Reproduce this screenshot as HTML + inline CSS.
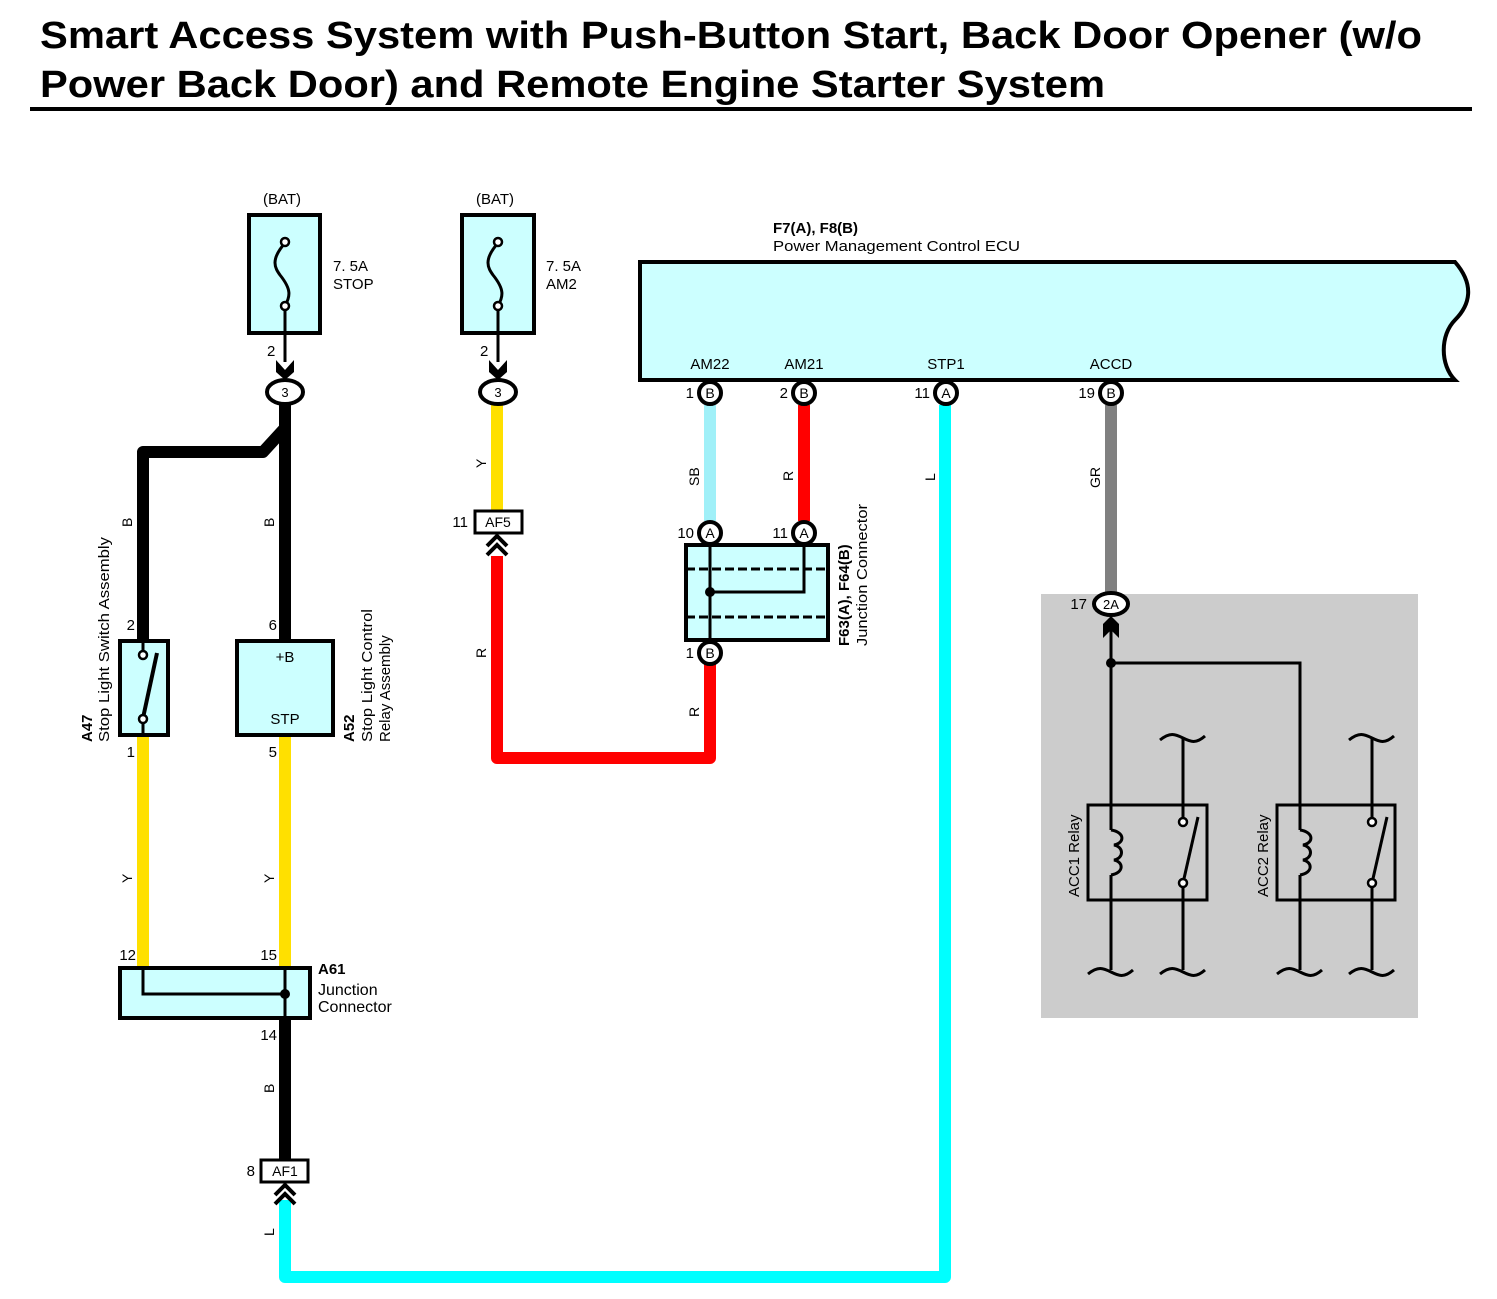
<!DOCTYPE html>
<html><head><meta charset="utf-8"><style>
html,body{margin:0;padding:0;background:#fff;}
svg{display:block;}
text{font-family:"Liberation Sans",sans-serif;fill:#000;}
</style></head><body>
<svg width="1497" height="1299" viewBox="0 0 1497 1299" xmlns="http://www.w3.org/2000/svg">
<text x="40" y="48" font-size="38" font-weight="bold" textLength="1382" lengthAdjust="spacingAndGlyphs">Smart Access System with Push-Button Start, Back Door Opener (w/o</text>
<text x="40" y="97" font-size="38" font-weight="bold" textLength="1065" lengthAdjust="spacingAndGlyphs">Power Back Door) and Remote Engine Starter System</text>
<rect x="30" y="107" width="1442" height="4" fill="#000"/>

<rect x="1041" y="594" width="377" height="424" fill="#cccccc"/>

<g fill="none" stroke-linejoin="round" stroke-linecap="butt">
<path d="M285 405 V640" stroke="#000" stroke-width="12"/>
<path d="M285 428 L263 452 H143 V640" stroke="#000" stroke-width="12"/>
<path d="M143 735 V968" stroke="#ffe000" stroke-width="12"/>
<path d="M285 735 V968" stroke="#ffe000" stroke-width="12"/>
<path d="M285 1018 V1160" stroke="#000" stroke-width="12"/>
<path d="M285 1200 V1277 H945 V405" stroke="#00ffff" stroke-width="12"/>
<path d="M497 405 V511" stroke="#ffe000" stroke-width="12"/>
<path d="M497 556 V758 H710 V664" stroke="#ff0000" stroke-width="12"/>
<path d="M710 405 V521" stroke="#a0f0f8" stroke-width="12"/>
<path d="M804 405 V521" stroke="#ff0000" stroke-width="12"/>
<path d="M1111 405 V594" stroke="#808080" stroke-width="12"/>
</g>

<g stroke="#000" stroke-width="4" fill="#ccffff">
<rect x="249" y="215" width="71" height="118"/>
<rect x="462" y="215" width="72" height="118"/>
</g>
<g stroke="#000" stroke-width="3" fill="none">
<path d="M285 243 C270 260,275 268,280 275 C292 290,290 296,285 306"/>
<path d="M498 243 C483 260,488 268,493 275 C505 290,503 296,498 306"/>
<line x1="285" y1="306" x2="285" y2="362"/>
<line x1="498" y1="306" x2="498" y2="362"/>
</g>
<g fill="#fff" stroke="#000" stroke-width="2.5"><circle cx="285" cy="242" r="4"/><circle cx="285" cy="306" r="4"/><circle cx="498" cy="242" r="4"/><circle cx="498" cy="306" r="4"/></g>
<g fill="#000"><path d="M276 360 L285 370 L294 360 V372 L285 380 L276 372 Z"/><path d="M489 360 L498 370 L507 360 V372 L498 380 L489 372 Z"/></g>
<g font-size="15">
<text x="263" y="204">(BAT)</text><text x="476" y="204">(BAT)</text>
<text x="333" y="271">7. 5A</text><text x="333" y="289">STOP</text>
<text x="546" y="271">7. 5A</text><text x="546" y="289">AM2</text>
<text x="267" y="356">2</text><text x="480" y="356">2</text>
</g>
<g fill="#fff" stroke="#000" stroke-width="4"><ellipse cx="285" cy="392" rx="18" ry="12"/><ellipse cx="498" cy="392" rx="18" ry="12"/></g>
<g font-size="13" text-anchor="middle"><text x="285" y="397">3</text><text x="498" y="397">3</text></g>

<path d="M640 262 H1455 C1475 285,1470 305,1455 320 C1440 335,1440 365,1455 380 H640 Z" fill="#ccffff" stroke="#000" stroke-width="4"/>
<text x="773" y="233" font-size="15" font-weight="bold">F7(A), F8(B)</text>
<text x="773" y="251" font-size="15" textLength="247" lengthAdjust="spacingAndGlyphs">Power Management Control ECU</text>
<g font-size="15" text-anchor="middle"><text x="710" y="369">AM22</text><text x="804" y="369">AM21</text><text x="946" y="369">STP1</text><text x="1111" y="369">ACCD</text></g>
<g fill="#fff" stroke="#000" stroke-width="4">
<circle cx="710" cy="393" r="11"/><circle cx="804" cy="393" r="11"/><circle cx="946" cy="393" r="11"/><circle cx="1111" cy="393" r="11"/>
</g>
<g font-size="14" text-anchor="middle"><text x="710" y="398">B</text><text x="804" y="398">B</text><text x="946" y="398">A</text><text x="1111" y="398">B</text></g>
<g font-size="15" text-anchor="end"><text x="694" y="398">1</text><text x="788" y="398">2</text><text x="930" y="398">11</text><text x="1095" y="398">19</text></g>

<rect x="686" y="545" width="142" height="95" fill="#ccffff" stroke="#000" stroke-width="4"/>
<g stroke="#000" stroke-width="3" fill="none">
<line x1="686" y1="569" x2="828" y2="569" stroke-dasharray="9,4"/>
<line x1="686" y1="617" x2="828" y2="617" stroke-dasharray="9,4"/>
<path d="M804 545 V592 H710"/><line x1="710" y1="545" x2="710" y2="640"/>
</g>
<circle cx="710" cy="592" r="5" fill="#000"/>
<g fill="#fff" stroke="#000" stroke-width="4"><circle cx="710" cy="533" r="11"/><circle cx="804" cy="533" r="11"/><circle cx="710" cy="653" r="11"/></g>
<g font-size="14" text-anchor="middle"><text x="710" y="538">A</text><text x="804" y="538">A</text><text x="710" y="658">B</text></g>
<g font-size="15" text-anchor="end"><text x="694" y="538">10</text><text x="788" y="538">11</text><text x="694" y="658">1</text></g>
<text transform="translate(849,646) rotate(-90)" font-size="15" font-weight="bold">F63(A), F64(B)</text>
<text transform="translate(867,646) rotate(-90)" font-size="15" textLength="142" lengthAdjust="spacingAndGlyphs">Junction Connector</text>

<rect x="475" y="511" width="47" height="22" fill="#fff" stroke="#000" stroke-width="3"/>
<text x="498" y="527" font-size="14" text-anchor="middle">AF5</text>
<text x="468" y="527" font-size="15" text-anchor="end">11</text>
<path d="M487 546 L497 536 L507 546 M487 555 L497 545 L507 555" stroke="#000" stroke-width="4" fill="none"/>

<rect x="120" y="641" width="48" height="94" fill="#ccffff" stroke="#000" stroke-width="4"/>
<g stroke="#000" stroke-width="3" fill="none"><line x1="143" y1="641" x2="143" y2="650"/><line x1="143" y1="718" x2="157" y2="653" stroke-width="4"/><line x1="143" y1="724" x2="143" y2="735"/></g>
<g fill="#fff" stroke="#000" stroke-width="2.5"><circle cx="143" cy="655" r="4"/><circle cx="143" cy="719" r="4"/></g>
<rect x="237" y="641" width="96" height="94" fill="#ccffff" stroke="#000" stroke-width="4"/>
<text x="285" y="662" font-size="15" text-anchor="middle">+B</text>
<text x="285" y="724" font-size="15" text-anchor="middle">STP</text>
<g font-size="15" text-anchor="end"><text x="135" y="630">2</text><text x="277" y="630">6</text><text x="135" y="757">1</text><text x="277" y="757">5</text></g>
<text transform="translate(92,742) rotate(-90)" font-size="15" font-weight="bold">A47</text>
<text transform="translate(109,742) rotate(-90)" font-size="15" textLength="205" lengthAdjust="spacingAndGlyphs">Stop Light Switch Assembly</text>
<text transform="translate(354,742) rotate(-90)" font-size="15" font-weight="bold">A52</text>
<text transform="translate(372,742) rotate(-90)" font-size="15" textLength="133" lengthAdjust="spacingAndGlyphs">Stop Light Control</text>
<text transform="translate(390,742) rotate(-90)" font-size="15">Relay Assembly</text>

<rect x="120" y="968" width="190" height="50" fill="#ccffff" stroke="#000" stroke-width="4"/>
<g stroke="#000" stroke-width="3" fill="none"><path d="M143 968 V994 H285"/><line x1="285" y1="968" x2="285" y2="1018"/></g>
<circle cx="285" cy="994" r="5" fill="#000"/>
<g font-size="15" text-anchor="end"><text x="136" y="960">12</text><text x="277" y="960">15</text><text x="277" y="1040">14</text></g>
<text x="318" y="974" font-size="15" font-weight="bold">A61</text>
<text x="318" y="995" font-size="16">Junction</text>
<text x="318" y="1012" font-size="16">Connector</text>

<rect x="261" y="1160" width="47" height="22" fill="#fff" stroke="#000" stroke-width="3"/>
<text x="285" y="1176" font-size="14" text-anchor="middle">AF1</text>
<text x="255" y="1176" font-size="15" text-anchor="end">8</text>
<path d="M275 1195 L285 1185 L295 1195 M275 1204 L285 1194 L295 1204" stroke="#000" stroke-width="4" fill="none"/>

<g font-size="14">
<text transform="translate(132,527) rotate(-90)">B</text>
<text transform="translate(274,527) rotate(-90)">B</text>
<text transform="translate(132,883) rotate(-90)">Y</text>
<text transform="translate(274,883) rotate(-90)">Y</text>
<text transform="translate(274,1093) rotate(-90)">B</text>
<text transform="translate(274,1236) rotate(-90)">L</text>
<text transform="translate(486,468) rotate(-90)">Y</text>
<text transform="translate(486,658) rotate(-90)">R</text>
<text transform="translate(699,486) rotate(-90)">SB</text>
<text transform="translate(793,481) rotate(-90)">R</text>
<text transform="translate(699,717) rotate(-90)">R</text>
<text transform="translate(935,481) rotate(-90)">L</text>
<text transform="translate(1100,488) rotate(-90)">GR</text>
</g>

<path d="M1103 638 V624 L1111 616 L1119 624 V638 L1111 630 Z" fill="#000"/>
<ellipse cx="1111" cy="604" rx="17" ry="11" fill="#fff" stroke="#000" stroke-width="4"/>
<text x="1111" y="609" font-size="13" text-anchor="middle">2A</text>
<text x="1087" y="609" font-size="15" text-anchor="end">17</text>

<g stroke="#000" stroke-width="3" fill="none">
<path d="M1111 630 V830 M1111 875 V970"/>
<path d="M1111 663 H1300 V830 M1300 875 V970"/>
<path d="M1111 830 C1125 832,1125 843,1114 845 C1124 847,1124 858,1114 860 C1124 862,1124 873,1111 875"/>
<path d="M1300 830 C1314 832,1314 843,1303 845 C1313 847,1313 858,1303 860 C1313 862,1313 873,1300 875"/>
<path d="M1183 737 V818 M1183 888 V970"/>
<path d="M1372 737 V818 M1372 888 V970"/>
<line x1="1183" y1="883" x2="1198" y2="817"/>
<line x1="1372" y1="883" x2="1387" y2="817"/>
<rect x="1088" y="805" width="119" height="95"/>
<rect x="1277" y="805" width="118" height="95"/>
<path d="M1160 740 C1170 732,1175 734,1183 738 C1191 742,1196 744,1205 736"/>
<path d="M1349 740 C1359 732,1364 734,1372 738 C1380 742,1385 744,1394 736"/>
<path d="M1088 974 C1098 966,1103 968,1111 972 C1119 976,1124 978,1133 970"/>
<path d="M1160 974 C1170 966,1175 968,1183 972 C1191 976,1196 978,1205 970"/>
<path d="M1277 974 C1287 966,1292 968,1300 972 C1308 976,1313 978,1322 970"/>
<path d="M1349 974 C1359 966,1364 968,1372 972 C1380 976,1385 978,1394 970"/>
</g>
<circle cx="1111" cy="663" r="5" fill="#000"/>
<g fill="#fff" stroke="#000" stroke-width="2.5"><circle cx="1183" cy="822" r="4"/><circle cx="1183" cy="883" r="4"/><circle cx="1372" cy="822" r="4"/><circle cx="1372" cy="883" r="4"/></g>
<text transform="translate(1079,897) rotate(-90)" font-size="15">ACC1 Relay</text>
<text transform="translate(1268,897) rotate(-90)" font-size="15">ACC2 Relay</text>
</svg>
</body></html>
